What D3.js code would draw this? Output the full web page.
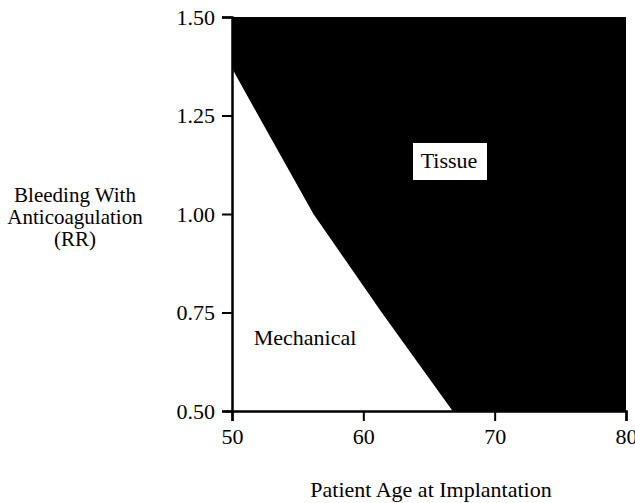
<!DOCTYPE html>
<html><head><meta charset="utf-8">
<script src="https://cdn.jsdelivr.net/npm/d3@7"></script>
<style>body{margin:0;background:#fff}svg{display:block}text{font-family:"Liberation Serif","Times New Roman",serif;fill:#000}</style>
</head><body><svg id="c" width="635" height="503"></svg>
<script>
const xTicks = [50, 60, 70, 80];
const yTicks = [0.50, 0.75, 1.00, 1.25, 1.50];
const boundaryAge = [50, 52, 56.2, 61.4, 66.8];
const boundaryRR = [1.37, 1.25, 1.00, 0.75, 0.50];
const regionLabels = ["Tissue", "Mechanical"];
const yTitle = ["Bleeding With", "Anticoagulation", "(RR)"];
const xTitle = "Patient Age at Implantation";

const svg = d3.select("#c");
const x = d3.scaleLinear().domain([50, 80]).range([232, 626]);
const y = d3.scaleLinear().domain([0.5, 1.5]).range([411, 17]);

svg.append("rect").attr("x", x(50)).attr("y", y(1.5)).attr("width", x(80)-x(50)).attr("height", y(0.5)-y(1.5)).attr("fill","#000");
const pts = [[50,0.5]].concat(boundaryAge.map((a,i)=>[a,boundaryRR[i]]));
svg.append("path").attr("d", d3.line().x(d=>x(d[0])).y(d=>y(d[1])).curve(d3.curveLinear)(pts)+"Z").attr("fill","#fff");

const fmt = d3.format(".2f");
const ya = svg.append("g").attr("transform",`translate(${x(50)},0)`).call(d3.axisLeft(y).tickValues(yTicks).tickFormat(fmt).tickSize(10).tickPadding(7));
const xa = svg.append("g").attr("transform",`translate(0,${y(0.5)})`).call(d3.axisBottom(x).tickValues(xTicks).tickFormat(d3.format("d")).tickSize(10).tickPadding(7));
[ya,xa].forEach(g=>{g.attr("font-family",null);g.selectAll("path").attr("stroke","#000").attr("stroke-width",2.5);g.selectAll("line").attr("stroke","#000").attr("stroke-width",2);g.selectAll("text").style("font-family",'"Liberation Serif",serif').style("font-size","22px");});

svg.append("rect").attr("x",413).attr("y",143).attr("width",74).attr("height",37).attr("fill","#fff");
svg.append("text").attr("x",449).attr("y",168).attr("text-anchor","middle").style("font-size","22px").text(regionLabels[0]);
svg.append("text").attr("x",305).attr("y",345).attr("text-anchor","middle").style("font-size","22px").text(regionLabels[1]);

const yt = svg.append("text").attr("text-anchor","middle").style("font-size","21px");
yTitle.forEach((t,i)=>yt.append("tspan").attr("x",75).attr("y",202+i*22).text(t));
svg.append("text").attr("x",431).attr("y",497).attr("text-anchor","middle").style("font-size","22px").text(xTitle);
</script></body></html>
